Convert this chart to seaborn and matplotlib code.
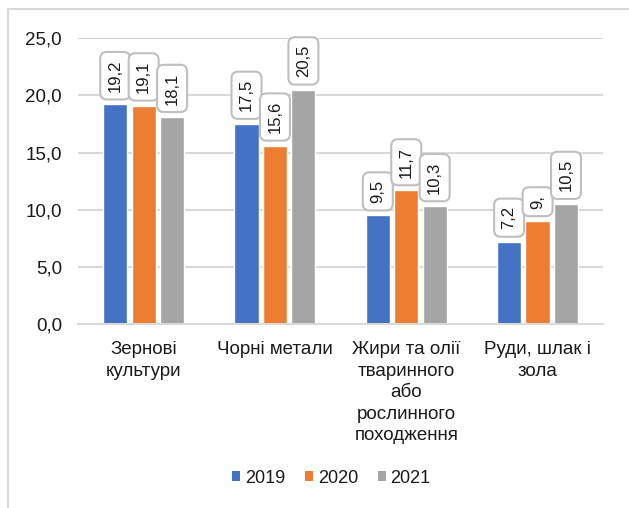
import matplotlib
matplotlib.use("Agg")
import matplotlib.pyplot as plt
from matplotlib.lines import Line2D
from matplotlib.patches import Patch
import pandas as pd
import seaborn as sns

categories = ["Зернові\nкультури", "Чорні метали",
              "Жири та олії\nтваринного\nабо\nрослинного\nпоходження",
              "Руди, шлак і\nзола"]
years = ["2019", "2020", "2021"]
values_2019 = [19.2, 17.5, 9.5, 7.2]
values_2020 = [19.1, 15.6, 11.7, 9.0]
values_2021 = [18.1, 20.5, 10.3, 10.5]
labels_2019 = ["19,2", "17,5", "9,5", "7,2"]
labels_2020 = ["19,1", "15,6", "11,7", "9,"]
labels_2021 = ["18,1", "20,5", "10,3", "10,5"]
y_ticks = [0, 5, 10, 15, 20, 25]

colors = ["#4472C4", "#ED7D31", "#A5A5A5"]
grid_color = "#D9D9D9"
text_color = "#1A1A1A"

sns.set_theme(style="white")
plt.rcParams["font.family"] = ["Liberation Sans", "DejaVu Sans"]
plt.rcParams["text.color"] = text_color
plt.rcParams["xtick.color"] = text_color
plt.rcParams["ytick.color"] = text_color

rows = []
for year, vals, labs in zip(years, [values_2019, values_2020, values_2021],
                            [labels_2019, labels_2020, labels_2021]):
    for cat, v, lab in zip(categories, vals, labs):
        rows.append({"category": cat, "year": year, "value": v, "label": lab})
df = pd.DataFrame(rows)

fig = plt.figure(figsize=(6.29, 5.08), dpi=100)
ax = fig.add_axes([0.124, 0.362, 0.835, 0.563])

sns.barplot(data=df, x="category", y="value", hue="year", order=categories,
            hue_order=years, palette=colors, width=0.65, gap=0.15,
            saturation=1, legend=False, ax=ax, errorbar=None)

ax.set_ylim(0, 25)
ax.set_xlim(-0.5, 3.5)
ax.set_yticks(y_ticks)
ax.set_yticklabels([f"{t:.1f}".replace(".", ",") for t in y_ticks], fontsize=13.5)
ax.tick_params(axis="x", labelsize=13.5, pad=12.5, length=0)
ax.tick_params(axis="y", pad=11.5, length=0)
for lab in ax.get_xticklabels():
    lab.set_linespacing(1.34)
ax.set_xlabel("")
ax.set_ylabel("")
ax.yaxis.grid(True, color=grid_color, linewidth=1.5)
ax.set_axisbelow(True)
for side in ["left", "right", "top"]:
    ax.spines[side].set_visible(False)
ax.spines["bottom"].set_color(grid_color)
ax.spines["bottom"].set_linewidth(1.5)

# Value labels in rounded boxes above each bar
for container, year in zip(ax.containers, years):
    sub = df[df["year"] == year].set_index("category").loc[categories]
    for bar, text in zip(container, sub["label"]):
        x = bar.get_x() + bar.get_width() / 2
        h = bar.get_height()
        ax.annotate(text, (x, h), xytext=(0, 9), textcoords="offset points",
                    rotation=90, ha="center", va="bottom", fontsize=12,
                    annotation_clip=False,
                    bbox=dict(boxstyle="round,pad=0.45,rounding_size=0.4",
                              fc="white", ec="#BFBFBF", lw=1.5))

handles = [Patch(facecolor=c, edgecolor="none") for c in colors]
fig.legend(handles, years, loc="center", bbox_to_anchor=(0.527, 0.059),
           ncol=3, frameon=False, fontsize=13, handlelength=0.45,
           handleheight=0.45, handletextpad=0.25, columnspacing=1.1)

# Outer frame (left and top edges)
fig.add_artist(Line2D([8 / 629, 8 / 629], [0, 1 - 9 / 508],
                      transform=fig.transFigure, color=grid_color, lw=1.5))
fig.add_artist(Line2D([8 / 629, 1], [1 - 9 / 508, 1 - 9 / 508],
                      transform=fig.transFigure, color=grid_color, lw=1.5))

fig.savefig("out.png", dpi=100)
